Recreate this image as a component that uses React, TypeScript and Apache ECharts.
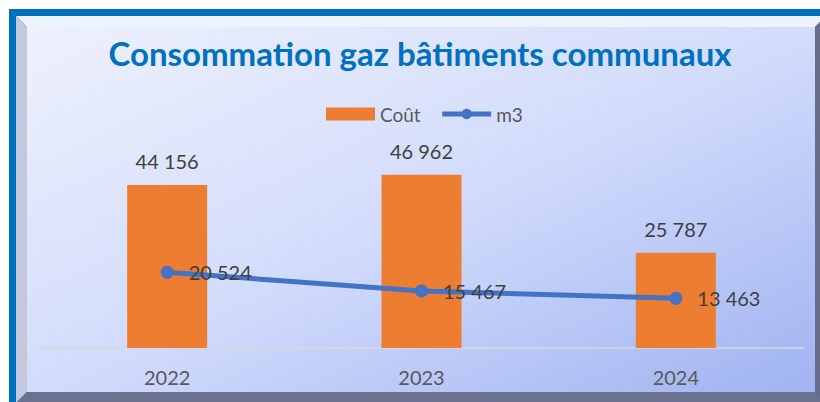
import React, { useEffect, useRef } from "react";
import * as echarts from "echarts";

const categories = ["2022", "2023", "2024"];
const coutValues = [44156, 46962, 25787];
const m3Values = [20524, 15467, 13463];
const seriesNames = ["Coût", "m3"];
const titleText = "Consommation gaz bâtiments communaux";

const fmt = (v: number) => String(v).replace(/\B(?=(\d{3})+(?!\d))/g, " ");

export default function App() {
  const ref = useRef<HTMLDivElement>(null);
  useEffect(() => {
    if (!ref.current) return;
    const chart = echarts.init(ref.current, undefined, { renderer: "svg" });
    const font = "Lato, 'Open Sans', sans-serif";
    chart.setOption({
      animation: false,
      textStyle: { fontFamily: font },
      graphic: [
        { type: "rect", z: -100, silent: true, shape: { x: 9, y: 9, width: 830, height: 410 }, style: { fill: "#0070C0" } },
        { type: "polygon", z: -99, silent: true, shape: { points: [[16, 16], [826, 16], [815, 27], [27, 27]] }, style: { fill: "#eef2fd" } },
        { type: "polygon", z: -99, silent: true, shape: { points: [[16, 16], [27, 27], [27, 392], [16, 403]] }, style: { fill: "#c3c8dc" } },
        { type: "polygon", z: -99, silent: true, shape: { points: [[826, 16], [815, 27], [815, 392], [826, 403]] }, style: { fill: "#666e8c" } },
        { type: "polygon", z: -99, silent: true, shape: { points: [[16, 403], [27, 392], [815, 392], [826, 403]] }, style: { fill: "#6b7290" } },
        {
          type: "rect", z: -98, silent: true,
          shape: { x: 27, y: 27, width: 788, height: 365 },
          style: {
            fill: {
              type: "linear", x: 0, y: 0, x2: 1, y2: 1,
              colorStops: [
                { offset: 0, color: "#eef1fc" },
                { offset: 0.5, color: "#d2dcfb" },
                { offset: 1, color: "#a0b3f2" },
              ],
            },
          },
        },
      ],
      title: {
        text: titleText,
        left: 415,
        top: 29,
        textAlign: "center",
        textStyle: { fontFamily: font, fontWeight: "bold", fontSize: 33, color: "#0070C0", lineHeight: 38 },
      },
      legend: {
        left: 321,
        top: 99,
        itemWidth: 49,
        itemHeight: 13,
        itemGap: 19,
        textStyle: { fontFamily: font, fontSize: 19, color: "#595959", lineHeight: 20 },
        data: [
          { name: seriesNames[0], icon: "rect" },
          { name: seriesNames[1], lineStyle: { width: 5 } },
        ],
      },
      grid: { left: 40, right: 17, top: 163.5, bottom: 54 },
      xAxis: {
        type: "category",
        data: categories,
        axisLine: { lineStyle: { color: "#d9d9d9", width: 1.5 } },
        axisTick: { show: false },
        axisLabel: { fontFamily: font, fontSize: 20, color: "#595959", margin: 19, lineHeight: 20 },
      },
      yAxis: { type: "value", min: 0, max: 50000, show: false, splitLine: { show: false } },
      series: [
        {
          name: seriesNames[0],
          type: "bar",
          data: coutValues,
          barWidth: 80,
          itemStyle: { color: "#ED7D31" },
          label: {
            show: true, position: "top", distance: 14,
            formatter: (p: any) => fmt(p.value),
            fontFamily: font, fontSize: 20, color: "#404040", lineHeight: 20,
          },
        },
        {
          name: seriesNames[1],
          type: "line",
          data: m3Values,
          symbol: "circle",
          symbolSize: 13,
          lineStyle: { color: "#4472C4", width: 5 },
          itemStyle: { color: "#4472C4" },
          z: 3,
          label: {
            show: true, position: "right", distance: 15,
            formatter: (p: any) => fmt(p.value),
            fontFamily: font, fontSize: 20, color: "#404040",
          },
        },
      ],
    });
    return () => chart.dispose();
  }, []);
  return <div ref={ref} style={{ position: "absolute", left: 0, top: 0, width: 820, height: 402 }} />;
}
